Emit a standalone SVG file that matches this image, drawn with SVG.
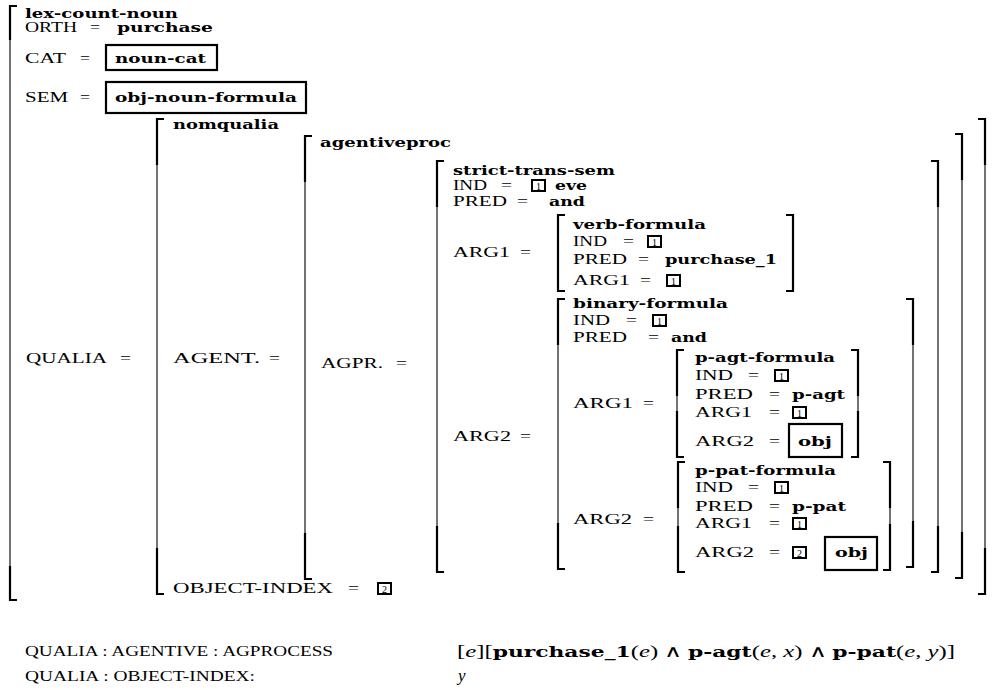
<svg xmlns="http://www.w3.org/2000/svg" width="1000" height="690" viewBox="0 0 1000 690">
  <style>
    text { font-family: "Liberation Serif", "Times New Roman", serif; fill: #000; }
    .l { font-size: 15px; }
    .b { font-family: "DejaVu Serif", "Liberation Serif", serif; font-size: 13.5px; font-weight: bold; }
    .tg { font-size: 10px; text-anchor: middle; }
    .bot { font-size: 14px; }
    .fm { font-size: 17px; }
    .fb { font-family: "DejaVu Serif", "Liberation Serif", serif; font-weight: bold; font-size: 15px; }
    .wedge { font-family: "Noto Sans", "DejaVu Sans", sans-serif; font-weight: 300; }
    .thin { fill: none; stroke: #000; stroke-width: 1.1; }
    .thick { fill: none; stroke: #000; stroke-width: 2.2; }
    .tag { fill: #fff; stroke: #000; stroke-width: 2; }
    .vbox { fill: #fff; stroke: #000; stroke-width: 2.2; }
  </style>

  <!-- brackets: thin full stroke, heavier end pieces -->
  <g id="brackets">
    <!-- lex-count-noun (left only) -->
    <path class="thin" d="M17,6H10V600H17"/>
    <path class="thick" d="M17,6H10V40M10,566V600H17"/>
    <!-- nomqualia -->
    <path class="thin" d="M164,119H157V594H164"/>
    <path class="thick" d="M164,119H157V165M157,548V594H164"/>
    <path class="thin" d="M978,119H985V594H978"/>
    <path class="thick" d="M978,119H985V165M985,548V594H978"/>
    <!-- agentiveproc -->
    <path class="thin" d="M312,136H305V579H312"/>
    <path class="thick" d="M312,136H305V182M305,533V579H312"/>
    <path class="thin" d="M955,134H962V578H955"/>
    <path class="thick" d="M955,134H962V180M962,532V578H955"/>
    <!-- strict-trans-sem -->
    <path class="thin" d="M444,161H437V572H444"/>
    <path class="thick" d="M444,161H437V207M437,526V572H444"/>
    <path class="thin" d="M931,161H938V572H931"/>
    <path class="thick" d="M931,161H938V207M938,526V572H931"/>
    <!-- verb-formula -->
    <path class="thick" d="M565,215H558V291H565"/>
    <path class="thick" d="M786,215H793V291H786"/>
    <!-- binary-formula -->
    <path class="thin" d="M565,299H558V569H565"/>
    <path class="thick" d="M565,299H558V345M558,523V569H565"/>
    <path class="thin" d="M906,299H913V567H906"/>
    <path class="thick" d="M906,299H913V345M913,521V567H906"/>
    <!-- p-agt-formula -->
    <path class="thin" d="M684,350H677V457H684"/>
    <path class="thick" d="M684,350H677V396M677,411V457H684"/>
    <path class="thin" d="M851,350H858V457H851"/>
    <path class="thick" d="M851,350H858V396M858,411V457H851"/>
    <!-- p-pat-formula -->
    <path class="thin" d="M685,462H678V572H685"/>
    <path class="thick" d="M685,462H678V508M678,526V572H685"/>
    <path class="thin" d="M883,462H890V570H883"/>
    <path class="thick" d="M883,462H890V508M890,524V570H883"/>
  </g>

  <!-- outermost structure -->
  <g id="lex-count-noun">
    <text class="b" x="25" y="18" textLength="153" lengthAdjust="spacingAndGlyphs">lex-count-noun</text>
    <text class="l" x="25" y="32" textLength="52" lengthAdjust="spacingAndGlyphs">ORTH</text>
    <text class="l" x="90" y="32" textLength="10" lengthAdjust="spacingAndGlyphs">=</text>
    <text class="b" x="117" y="32" textLength="96" lengthAdjust="spacingAndGlyphs">purchase</text>

    <text class="l" x="25" y="63" textLength="41" lengthAdjust="spacingAndGlyphs">CAT</text>
    <text class="l" x="80" y="63" textLength="10" lengthAdjust="spacingAndGlyphs">=</text>
    <rect class="vbox" x="106" y="45" width="111" height="25"/>
    <text class="b" x="115" y="63" textLength="91" lengthAdjust="spacingAndGlyphs">noun-cat</text>

    <text class="l" x="25" y="102" textLength="43" lengthAdjust="spacingAndGlyphs">SEM</text>
    <text class="l" x="80" y="102" textLength="10" lengthAdjust="spacingAndGlyphs">=</text>
    <rect class="vbox" x="106" y="82" width="200" height="31"/>
    <text class="b" x="115" y="102" textLength="182" lengthAdjust="spacingAndGlyphs">obj-noun-formula</text>

    <text class="l" x="26" y="363" textLength="81" lengthAdjust="spacingAndGlyphs">QUALIA</text>
    <text class="l" x="120" y="363" textLength="11" lengthAdjust="spacingAndGlyphs">=</text>
  </g>

  <g id="nomqualia">
    <text class="b" x="173" y="129" textLength="106" lengthAdjust="spacingAndGlyphs">nomqualia</text>
    <text class="l" x="173" y="363" textLength="87" lengthAdjust="spacingAndGlyphs">AGENT.</text>
    <text class="l" x="269" y="363" textLength="11" lengthAdjust="spacingAndGlyphs">=</text>
    <text class="l" x="173" y="593" textLength="160" lengthAdjust="spacingAndGlyphs">OBJECT-INDEX</text>
    <text class="l" x="348" y="593" textLength="11" lengthAdjust="spacingAndGlyphs">=</text>
    <rect class="tag" x="378" y="583" width="13" height="11"/>
    <text class="tg" x="384.5" y="592.5">2</text>
  </g>

  <g id="agentiveproc">
    <text class="b" x="320" y="147" textLength="131" lengthAdjust="spacingAndGlyphs">agentiveproc</text>
    <text class="l" x="321" y="368" textLength="62" lengthAdjust="spacingAndGlyphs">AGPR.</text>
    <text class="l" x="396" y="368" textLength="11" lengthAdjust="spacingAndGlyphs">=</text>
  </g>

  <g id="strict-trans-sem">
    <text class="b" x="453" y="175" textLength="162" lengthAdjust="spacingAndGlyphs">strict-trans-sem</text>
    <text class="l" x="453" y="190" textLength="34" lengthAdjust="spacingAndGlyphs">IND</text>
    <text class="l" x="501" y="190" textLength="11" lengthAdjust="spacingAndGlyphs">=</text>
    <rect class="tag" x="532" y="180" width="13" height="11"/>
    <text class="tg" x="538.5" y="189.5">1</text>
    <text class="b" x="555" y="190" textLength="32" lengthAdjust="spacingAndGlyphs">eve</text>
    <text class="l" x="453" y="206" textLength="54" lengthAdjust="spacingAndGlyphs">PRED</text>
    <text class="l" x="517" y="206" textLength="11" lengthAdjust="spacingAndGlyphs">=</text>
    <text class="b" x="549" y="206" textLength="36" lengthAdjust="spacingAndGlyphs">and</text>
    <text class="l" x="453" y="257" textLength="57" lengthAdjust="spacingAndGlyphs">ARG1</text>
    <text class="l" x="520" y="257" textLength="11" lengthAdjust="spacingAndGlyphs">=</text>
    <text class="l" x="453" y="441" textLength="58" lengthAdjust="spacingAndGlyphs">ARG2</text>
    <text class="l" x="520" y="441" textLength="11" lengthAdjust="spacingAndGlyphs">=</text>
  </g>

  <g id="verb-formula">
    <text class="b" x="573" y="229" textLength="133" lengthAdjust="spacingAndGlyphs">verb-formula</text>
    <text class="l" x="573" y="246" textLength="34" lengthAdjust="spacingAndGlyphs">IND</text>
    <text class="l" x="623" y="246" textLength="11" lengthAdjust="spacingAndGlyphs">=</text>
    <rect class="tag" x="648" y="236" width="13" height="11"/>
    <text class="tg" x="654.5" y="245.5">1</text>
    <text class="l" x="573" y="264" textLength="54" lengthAdjust="spacingAndGlyphs">PRED</text>
    <text class="l" x="638" y="264" textLength="11" lengthAdjust="spacingAndGlyphs">=</text>
    <text class="b" x="665" y="264" textLength="112" lengthAdjust="spacingAndGlyphs">purchase_1</text>
    <text class="l" x="573" y="285" textLength="57" lengthAdjust="spacingAndGlyphs">ARG1</text>
    <text class="l" x="640" y="285" textLength="11" lengthAdjust="spacingAndGlyphs">=</text>
    <rect class="tag" x="667" y="275" width="13" height="11"/>
    <text class="tg" x="673.5" y="284.5">1</text>
  </g>

  <g id="binary-formula">
    <text class="b" x="573" y="308" textLength="155" lengthAdjust="spacingAndGlyphs">binary-formula</text>
    <text class="l" x="573" y="325" textLength="37" lengthAdjust="spacingAndGlyphs">IND</text>
    <text class="l" x="626" y="325" textLength="11" lengthAdjust="spacingAndGlyphs">=</text>
    <rect class="tag" x="653" y="315" width="13" height="11"/>
    <text class="tg" x="659.5" y="324.5">1</text>
    <text class="l" x="573" y="342" textLength="54" lengthAdjust="spacingAndGlyphs">PRED</text>
    <text class="l" x="648" y="342" textLength="11" lengthAdjust="spacingAndGlyphs">=</text>
    <text class="b" x="671" y="342" textLength="36" lengthAdjust="spacingAndGlyphs">and</text>
    <text class="l" x="573" y="408" textLength="60" lengthAdjust="spacingAndGlyphs">ARG1</text>
    <text class="l" x="643" y="408" textLength="11" lengthAdjust="spacingAndGlyphs">=</text>
    <text class="l" x="573" y="524" textLength="59" lengthAdjust="spacingAndGlyphs">ARG2</text>
    <text class="l" x="643" y="524" textLength="11" lengthAdjust="spacingAndGlyphs">=</text>
  </g>

  <g id="p-agt-formula">
    <text class="b" x="695" y="362" textLength="140" lengthAdjust="spacingAndGlyphs">p-agt-formula</text>
    <text class="l" x="695" y="380" textLength="38" lengthAdjust="spacingAndGlyphs">IND</text>
    <text class="l" x="748" y="380" textLength="11" lengthAdjust="spacingAndGlyphs">=</text>
    <rect class="tag" x="775" y="370" width="13" height="11"/>
    <text class="tg" x="781.5" y="379.5">1</text>
    <text class="l" x="695" y="399" textLength="58" lengthAdjust="spacingAndGlyphs">PRED</text>
    <text class="l" x="769" y="399" textLength="11" lengthAdjust="spacingAndGlyphs">=</text>
    <text class="b" x="792" y="399" textLength="53" lengthAdjust="spacingAndGlyphs">p-agt</text>
    <text class="l" x="695" y="417" textLength="57" lengthAdjust="spacingAndGlyphs">ARG1</text>
    <text class="l" x="769" y="417" textLength="11" lengthAdjust="spacingAndGlyphs">=</text>
    <rect class="tag" x="793" y="407" width="13" height="11"/>
    <text class="tg" x="799.5" y="416.5">1</text>
    <text class="l" x="695" y="446" textLength="59" lengthAdjust="spacingAndGlyphs">ARG2</text>
    <text class="l" x="769" y="446" textLength="11" lengthAdjust="spacingAndGlyphs">=</text>
    <rect class="vbox" x="789" y="424" width="53" height="33"/>
    <text class="b" x="798" y="446" textLength="34" lengthAdjust="spacingAndGlyphs">obj</text>
  </g>

  <g id="p-pat-formula">
    <text class="b" x="695" y="475" textLength="141" lengthAdjust="spacingAndGlyphs">p-pat-formula</text>
    <text class="l" x="695" y="492" textLength="38" lengthAdjust="spacingAndGlyphs">IND</text>
    <text class="l" x="748" y="492" textLength="11" lengthAdjust="spacingAndGlyphs">=</text>
    <rect class="tag" x="775" y="482" width="13" height="11"/>
    <text class="tg" x="781.5" y="491.5">1</text>
    <text class="l" x="695" y="511" textLength="58" lengthAdjust="spacingAndGlyphs">PRED</text>
    <text class="l" x="769" y="511" textLength="11" lengthAdjust="spacingAndGlyphs">=</text>
    <text class="b" x="792" y="511" textLength="54" lengthAdjust="spacingAndGlyphs">p-pat</text>
    <text class="l" x="695" y="528" textLength="57" lengthAdjust="spacingAndGlyphs">ARG1</text>
    <text class="l" x="769" y="528" textLength="11" lengthAdjust="spacingAndGlyphs">=</text>
    <rect class="tag" x="793" y="518" width="13" height="11"/>
    <text class="tg" x="799.5" y="527.5">1</text>
    <text class="l" x="695" y="557" textLength="59" lengthAdjust="spacingAndGlyphs">ARG2</text>
    <text class="l" x="769" y="557" textLength="11" lengthAdjust="spacingAndGlyphs">=</text>
    <rect class="tag" x="793" y="547" width="13" height="11"/>
    <text class="tg" x="799.5" y="556.5">2</text>
    <rect class="vbox" x="825" y="537" width="52" height="33"/>
    <text class="b" x="835" y="557" textLength="33" lengthAdjust="spacingAndGlyphs">obj</text>
  </g>

  <!-- path/value summary below the structure -->
  <g id="summary">
    <text class="bot" x="25" y="656" textLength="308" lengthAdjust="spacingAndGlyphs">QUALIA : AGENTIVE : AGPROCESS</text>
    <text class="bot" x="25" y="681" textLength="230" lengthAdjust="spacingAndGlyphs">QUALIA : OBJECT-INDEX:</text>
    <text class="fm" x="457" y="657" textLength="498" lengthAdjust="spacingAndGlyphs">[<tspan font-style="italic">e</tspan>][<tspan class="fb">purchase_1</tspan>(<tspan font-style="italic">e</tspan>) <tspan class="wedge">∧</tspan> <tspan class="fb">p-agt</tspan>(<tspan font-style="italic">e</tspan>, <tspan font-style="italic">x</tspan>) <tspan class="wedge">∧</tspan> <tspan class="fb">p-pat</tspan>(<tspan font-style="italic">e</tspan>, <tspan font-style="italic">y</tspan>)]</text>
    <text class="fm" x="458" y="681" font-style="italic">y</text>
  </g>
</svg>
